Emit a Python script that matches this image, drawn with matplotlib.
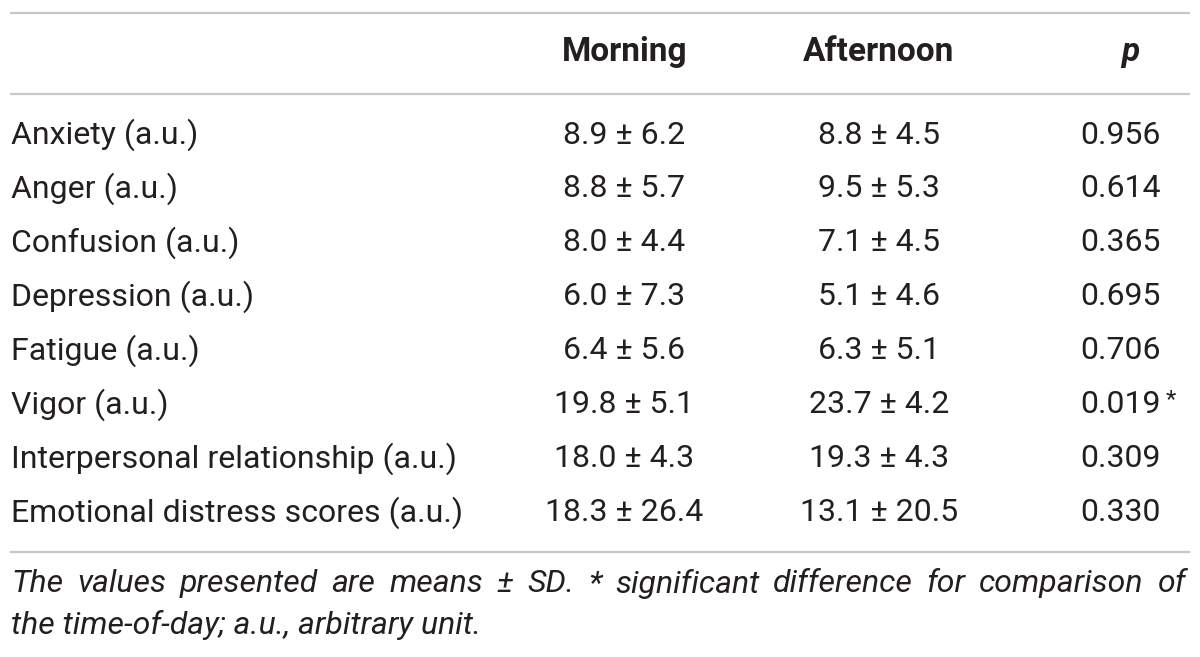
import matplotlib
matplotlib.use("Agg")
import matplotlib.pyplot as plt

# table content
labels = ["Anxiety (a.u.)", "Anger (a.u.)", "Confusion (a.u.)", "Depression (a.u.)",
          "Fatigue (a.u.)", "Vigor (a.u.)", "Interpersonal relationship (a.u.)",
          "Emotional distress scores (a.u.)"]
morning_mean = [8.9, 8.8, 8.0, 6.0, 6.4, 19.8, 18.0, 18.3]
morning_sd = [6.2, 5.7, 4.4, 7.3, 5.6, 5.1, 4.3, 26.4]
afternoon_mean = [8.8, 9.5, 7.1, 5.1, 6.3, 23.7, 19.3, 13.1]
afternoon_sd = [4.5, 5.3, 4.5, 4.6, 5.1, 4.2, 4.3, 20.5]
p_values = ["0.956", "0.614", "0.365", "0.695", "0.706", "0.019", "0.309", "0.330"]
significant = [False, False, False, False, False, True, False, False]
headers = ["Morning", "Afternoon", "p"]
footnote = ["The values presented are means \u00b1 SD. * significant difference for comparison of",
            "the time-of-day; a.u., arbitrary unit."]

W, H = 1200, 657
fig = plt.figure(figsize=(12, 6.57), dpi=100)
ax = fig.add_axes([0, 0, 1, 1])
ax.set_xlim(0, W)
ax.set_ylim(H, 0)
ax.axis("off")

txt = "#231f20"
rule = "#c8c8c8"
fam = ["Roboto", "DejaVu Sans"]
fs = 23
wt = "normal"

fig.canvas.draw()
renderer = fig.canvas.get_renderer()

# rules
for y in (13, 94, 552):
    ax.plot([10, 1190], [y, y], color=rule, lw=1.6, solid_capstyle="butt")

# header
col_x = [625, 879, 1130]
for x, h in zip(col_x, headers):
    style = "italic" if h == "p" else "normal"
    ax.text(x, 52, h, ha="center", va="center", fontsize=fs + 1, fontweight="bold",
            fontstyle=style, color=txt, family=fam)

# rows
y0, dy = 135, 53.9
for i, lab in enumerate(labels):
    y = y0 + i * dy
    ax.text(11, y, lab, ha="left", va="center", fontsize=fs, fontweight=wt,
            color=txt, family=fam)
    ax.text(624, y, f"{morning_mean[i]:.1f} \u00b1 {morning_sd[i]:.1f}", ha="center",
            va="center", fontsize=fs, fontweight=wt, color=txt, family=fam)
    ax.text(879, y, f"{afternoon_mean[i]:.1f} \u00b1 {afternoon_sd[i]:.1f}", ha="center",
            va="center", fontsize=fs, fontweight=wt, color=txt, family=fam)
    pt = ax.text(1120, y, p_values[i], ha="center", va="center", fontsize=fs,
                 fontweight=wt, color=txt, family=fam)
    if significant[i]:
        bb = pt.get_window_extent(renderer)
        xr = bb.x1 / fig.dpi / fig.get_figwidth() * W
        ax.text(xr + 5, y - 5, "*", ha="left", va="center", fontsize=fs * 0.75,
                fontweight=wt, color=txt, family=fam)

# footnote, first line justified


def word_width(w):
    t = ax.text(0, 0, w, fontsize=fs, fontstyle="italic", fontweight=wt, family=fam)
    bb = t.get_window_extent(renderer)
    t.remove()
    return bb.width


words = footnote[0].split(" ")
widths = [word_width(w) for w in words]
left, right = 11, 1186
gap = (right - left - sum(widths)) / (len(words) - 1)
x = left
for w, wd in zip(words, widths):
    ax.text(x, 584, w, ha="left", va="center", fontsize=fs, fontstyle="italic",
            fontweight=wt, color=txt, family=fam)
    x += wd + gap
ax.text(left, 625, footnote[1], ha="left", va="center", fontsize=fs, fontstyle="italic",
        fontweight=wt, color=txt, family=fam)

fig.savefig("out.png", dpi=100, facecolor="white")
